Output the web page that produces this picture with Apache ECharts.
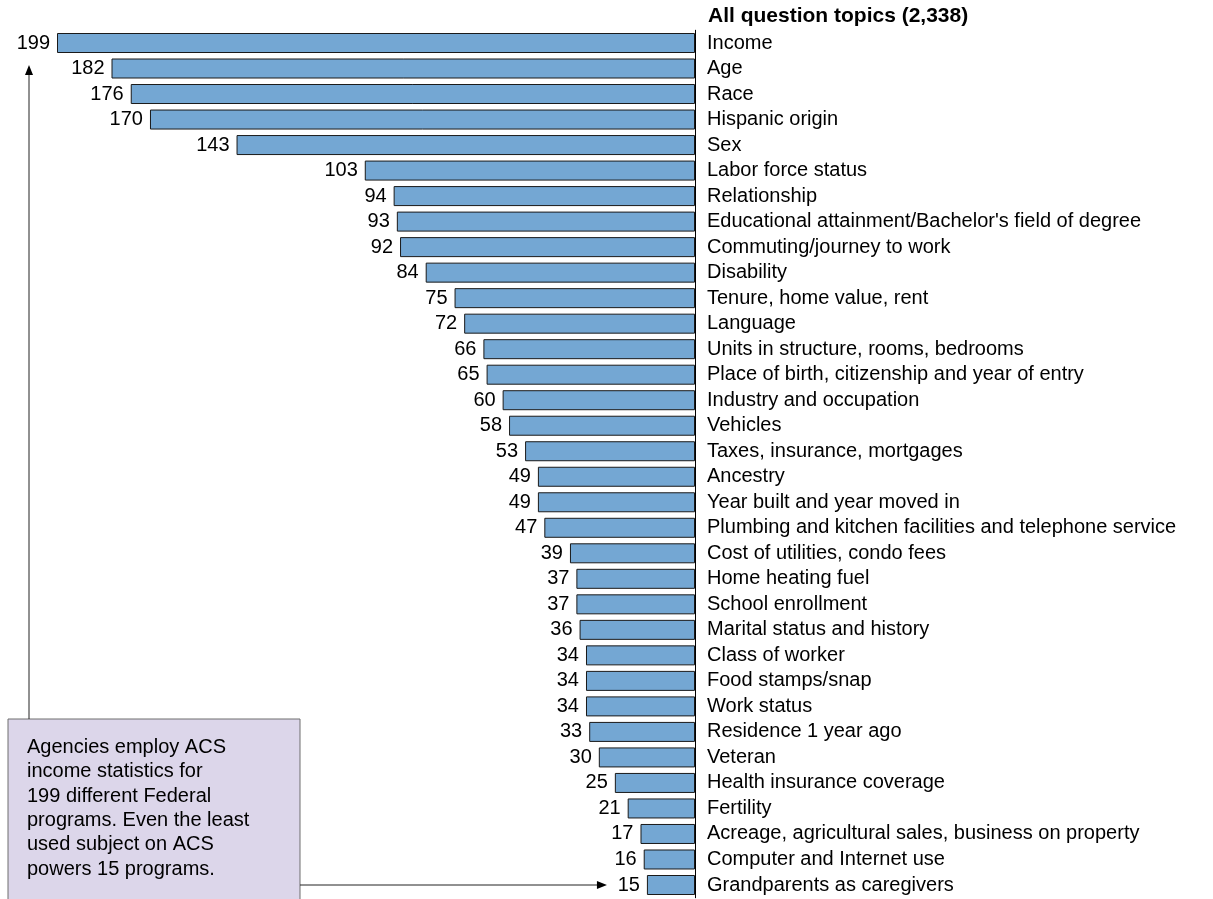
<!DOCTYPE html>
<html lang="en">
<head>
<meta charset="utf-8">
<title>ACS question topics</title>
<script src="https://cdn.jsdelivr.net/npm/echarts@6/dist/echarts.min.js"></script>
<style>
  html, body { margin: 0; padding: 0; background: #fff; }
  #main { width: 1213px; height: 899px; }
</style>
</head>
<body>
<div id="main"></div>
<script>
// topics, top to bottom
var topics = ['Income', 'Age', 'Race', 'Hispanic origin', 'Sex', 'Labor force status',
    'Relationship', "Educational attainment/Bachelor's field of degree", 'Commuting/journey to work',
    'Disability', 'Tenure, home value, rent', 'Language', 'Units in structure, rooms, bedrooms',
    'Place of birth, citizenship and year of entry', 'Industry and occupation', 'Vehicles',
    'Taxes, insurance, mortgages', 'Ancestry', 'Year built and year moved in',
    'Plumbing and kitchen facilities and telephone service', 'Cost of utilities, condo fees',
    'Home heating fuel', 'School enrollment', 'Marital status and history', 'Class of worker',
    'Food stamps/snap', 'Work status', 'Residence 1 year ago', 'Veteran',
    'Health insurance coverage', 'Fertility', 'Acreage, agricultural sales, business on property',
    'Computer and Internet use', 'Grandparents as caregivers'];
// number of federal programs using each topic
var programs = [199, 182, 176, 170, 143, 103, 94, 93, 92, 84, 75, 72, 66, 65, 60, 58, 53, 49, 49,
    47, 39, 37, 37, 36, 34, 34, 34, 33, 30, 25, 21, 17, 16, 15];
var headerText = 'All question topics (2,338)';
var noteLines = ['Agencies employ ACS', 'income statistics for', '199 different Federal',
    'programs. Even the least', 'used subject on ACS', 'powers 15 programs.'];

var font = 'Arial, "Liberation Sans", sans-serif';
var chart = echarts.init(document.getElementById('main'));

var n = topics.length;
var band = (885 - 43) / (n - 1);

chart.setOption({
    animation: false,
    grid: { left: 57, right: 518, top: 43 - band / 2, bottom: 899 - (885 + band / 2) },
    xAxis: {
        type: 'value', min: 0, max: 199, inverse: true,
        axisLine: { show: false }, axisTick: { show: false },
        axisLabel: { show: false }, splitLine: { show: false }
    },
    yAxis: {
        type: 'category', data: topics, inverse: true, position: 'right',
        axisLine: { show: true, onZero: false, lineStyle: { color: '#000', width: 1 } },
        axisTick: { show: false },
        axisLabel: { interval: 0, margin: 12, color: '#000', fontSize: 20, fontFamily: font }
    },
    series: [{
        type: 'bar',
        data: programs,
        barWidth: 20,
        itemStyle: { color: '#74A7D3', borderColor: '#1a1a1a', borderWidth: 1 },
        label: {
            show: true, position: 'left', distance: 7,
            color: '#000', fontSize: 20, fontFamily: font
        }
    }]
});

// annotation: header, note box and arrows
var lastPt = chart.convertToPixel({ seriesIndex: 0 }, [programs[n - 1], n - 1]);
var firstPt = chart.convertToPixel({ seriesIndex: 0 }, [programs[0], 0]);
var arrowEndX = lastPt[0] - 40;
var vx = 29, boxTop = 719, boxLeft = 8, boxRight = 300;

chart.setOption({
    graphic: [
        {
            type: 'text', left: 708, top: 6,
            style: { text: headerText, font: 'bold 21px ' + font, fill: '#000' }
        },
        {
            type: 'rect', shape: { x: boxLeft, y: boxTop, width: boxRight - boxLeft, height: 200 },
            style: { fill: '#DCD6EA', stroke: '#6e6e6e', lineWidth: 1 }
        },
        {
            type: 'text', left: 27, top: boxTop + 16,
            style: { text: noteLines.join('\n'), font: '20px ' + font, fill: '#000', lineHeight: 24.4 }
        },
        {
            type: 'line', shape: { x1: vx, y1: boxTop, x2: vx, y2: firstPt[1] + 30 },
            style: { stroke: '#222', lineWidth: 1 }
        },
        {
            type: 'polygon',
            shape: { points: [[vx, firstPt[1] + 22], [vx - 4, firstPt[1] + 32], [vx + 4, firstPt[1] + 32]] },
            style: { fill: '#000' }
        },
        {
            type: 'line', shape: { x1: boxRight, y1: lastPt[1], x2: arrowEndX - 6, y2: lastPt[1] },
            style: { stroke: '#222', lineWidth: 1 }
        },
        {
            type: 'polygon',
            shape: { points: [[arrowEndX, lastPt[1]], [arrowEndX - 10, lastPt[1] - 4], [arrowEndX - 10, lastPt[1] + 4]] },
            style: { fill: '#000' }
        }
    ]
});
</script>
</body>
</html>
